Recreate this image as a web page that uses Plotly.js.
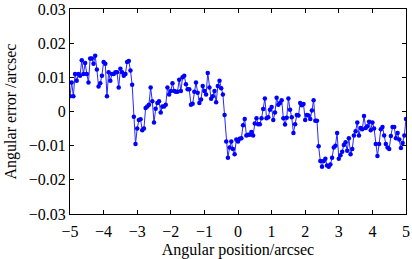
<!DOCTYPE html>
<html>
<head>
<meta charset="utf-8">
<script src="https://cdn.plot.ly/plotly-3.0.1.min.js"></script>
<style>html,body{margin:0;padding:0;background:#fff;}#chart{width:412px;height:259px;}</style>
</head>
<body>
<div id="chart"></div>
<script>
const positions = [
-5.00,-4.95,-4.90,-4.85,-4.80,-4.75,-4.70,-4.65,-4.60,-4.55,
-4.50,-4.45,-4.40,-4.35,-4.30,-4.25,-4.20,-4.15,-4.10,-4.05,
-4.00,-3.95,-3.90,-3.85,-3.80,-3.75,-3.70,-3.65,-3.60,-3.55,
-3.50,-3.45,-3.40,-3.35,-3.30,-3.25,-3.20,-3.15,-3.10,-3.05,
-3.00,-2.95,-2.90,-2.85,-2.80,-2.75,-2.70,-2.65,-2.60,-2.55,
-2.50,-2.45,-2.40,-2.35,-2.30,-2.25,-2.20,-2.15,-2.10,-2.05,
-2.00,-1.95,-1.90,-1.85,-1.80,-1.75,-1.70,-1.65,-1.60,-1.55,
-1.50,-1.45,-1.40,-1.35,-1.30,-1.25,-1.20,-1.15,-1.10,-1.05,
-1.00,-0.95,-0.90,-0.85,-0.80,-0.75,-0.70,-0.65,-0.60,-0.55,
-0.50,-0.45,-0.40,-0.35,-0.30,-0.25,-0.20,-0.15,-0.10,-0.05,
0.00,0.05,0.10,0.15,0.20,0.25,0.30,0.35,0.40,0.45,
0.50,0.55,0.60,0.65,0.70,0.75,0.80,0.85,0.90,0.95,
1.00,1.05,1.10,1.15,1.20,1.25,1.30,1.35,1.40,1.45,
1.50,1.55,1.60,1.65,1.70,1.75,1.80,1.85,1.90,1.95,
2.00,2.05,2.10,2.15,2.20,2.25,2.30,2.35,2.40,2.45,
2.50,2.55,2.60,2.65,2.70,2.75,2.80,2.85,2.90,2.95,
3.00,3.05,3.10,3.15,3.20,3.25,3.30,3.35,3.40,3.45,
3.50,3.55,3.60,3.65,3.70,3.75,3.80,3.85,3.90,3.95,
4.00,4.05,4.10,4.15,4.20,4.25,4.30,4.35,4.40,4.45,
4.50,4.55,4.60,4.65,4.70,4.75,4.80,4.85,4.90,4.95,
5.00
];
const errors = [
0.0045,0.0085,0.0045,0.011,0.009,0.011,0.0105,0.015,0.011,0.0142,
0.011,0.0085,0.0155,0.0155,0.014,0.0163,0.0123,0.0073,0.0083,0.0105,
0.0145,0.014,0.0045,0.0115,0.009,0.011,0.011,0.0115,0.0115,0.007,
0.0125,0.0115,0.0105,0.011,0.0145,0.0148,0.012,0.0078,-0.0015,-0.0095,
-0.005,-0.0025,-0.0023,-0.0055,-0.005,0.001,0.0015,0.002,0.007,0.003,
-0.0032,0.0008,0.0025,0.003,-0.0003,0.0015,0.0015,0.002,0.007,0.005,
0.006,0.0083,0.006,0.0058,0.0058,0.0093,0.006,0.010,0.0105,0.008,
0.0065,0.0065,0.002,0.0023,0.0058,0.0085,0.0055,0.0025,0.0035,0.0075,
0.006,0.005,0.0113,0.007,0.0037,0.0045,0.006,0.0027,0.0075,0.009,
0.0068,0.005,-0.001,-0.0088,-0.0135,-0.0105,-0.0088,-0.011,-0.0125,-0.0082,
-0.0088,-0.008,-0.0078,-0.004,-0.0022,-0.007,-0.0068,-0.0068,-0.006,-0.007,
-0.0035,-0.002,-0.0037,-0.0037,-0.002,0.0007,0.0038,-0.002,-0.0017,0.0005,
0.0013,-0.0025,-0.0003,0.004,0.002,0.0025,0.0033,-0.002,-0.0038,-0.0018,
0.0038,0.0005,-0.0017,-0.0063,-0.0037,-0.001,-0.0012,0.0025,0.0018,0.0022,
-0.0025,-0.001,-0.0012,-0.0022,0.0003,0.0033,-0.0027,-0.0027,-0.0102,-0.0145,
-0.0162,-0.0145,-0.0138,-0.0158,-0.0162,-0.0155,-0.0135,-0.0105,-0.01,-0.0063,
-0.0138,-0.0128,-0.0118,-0.0098,-0.009,-0.0115,-0.0078,-0.0125,-0.011,-0.007,
-0.0058,-0.0032,-0.007,-0.0048,-0.0052,-0.0013,-0.0048,-0.0043,-0.003,-0.0055,
-0.0032,-0.005,-0.0095,-0.013,-0.0095,-0.0052,-0.0045,-0.007,-0.0095,-0.0105,
-0.011,-0.0072,-0.0045,-0.0045,-0.0078,-0.0063,-0.0082,-0.0107,-0.0092,-0.007,
-0.0022
];
const xTicks = [-5,-4,-3,-2,-1,0,1,2,3,4,5];
const yTicks = [-0.03,-0.02,-0.01,0,0.01,0.02,0.03];
const yTickText = ['\u22120.03','\u22120.02','\u22120.01','0','0.01','0.02','0.03'];
const xTickText = ['\u22125','\u22124','\u22123','\u22122','\u22121','0','1','2','3','4','5'];

const font = {family: '"Liberation Serif", "Times New Roman", serif', size: 16, color: '#000'};

const trace = {
  x: positions, y: errors, type: 'scatter', mode: 'lines+markers',
  line: {color: '#2828ff', width: 1},
  marker: {color: '#0000ff', size: 4.5},
  hoverinfo: 'skip'
};

const axisCommon = {
  showline: true, linecolor: '#000', linewidth: 1, mirror: 'ticks',
  ticks: 'inside', ticklen: 4, tickwidth: 1, tickcolor: '#000',
  showgrid: false, zeroline: false, tickfont: font
};

const layout = {
  width: 412, height: 259,
  margin: {l: 70, r: 6, t: 9, b: 45},
  paper_bgcolor: '#fff', plot_bgcolor: '#fff',
  showlegend: false,
  font: font,
  xaxis: Object.assign({}, axisCommon, {
    range: [-5, 5], tickvals: xTicks, ticktext: xTickText,
    ticklabelstandoff: 3,
    title: {text: 'Angular position/arcsec', font: font, standoff: 5}
  }),
  yaxis: Object.assign({}, axisCommon, {
    range: [-0.03, 0.03], tickvals: yTicks, ticktext: yTickText,
    title: {text: 'Angular error /arcsec', font: font, standoff: 8}
  })
};

Plotly.newPlot('chart', [trace], layout, {staticPlot: true, displayModeBar: false});
</script>
</body>
</html>
